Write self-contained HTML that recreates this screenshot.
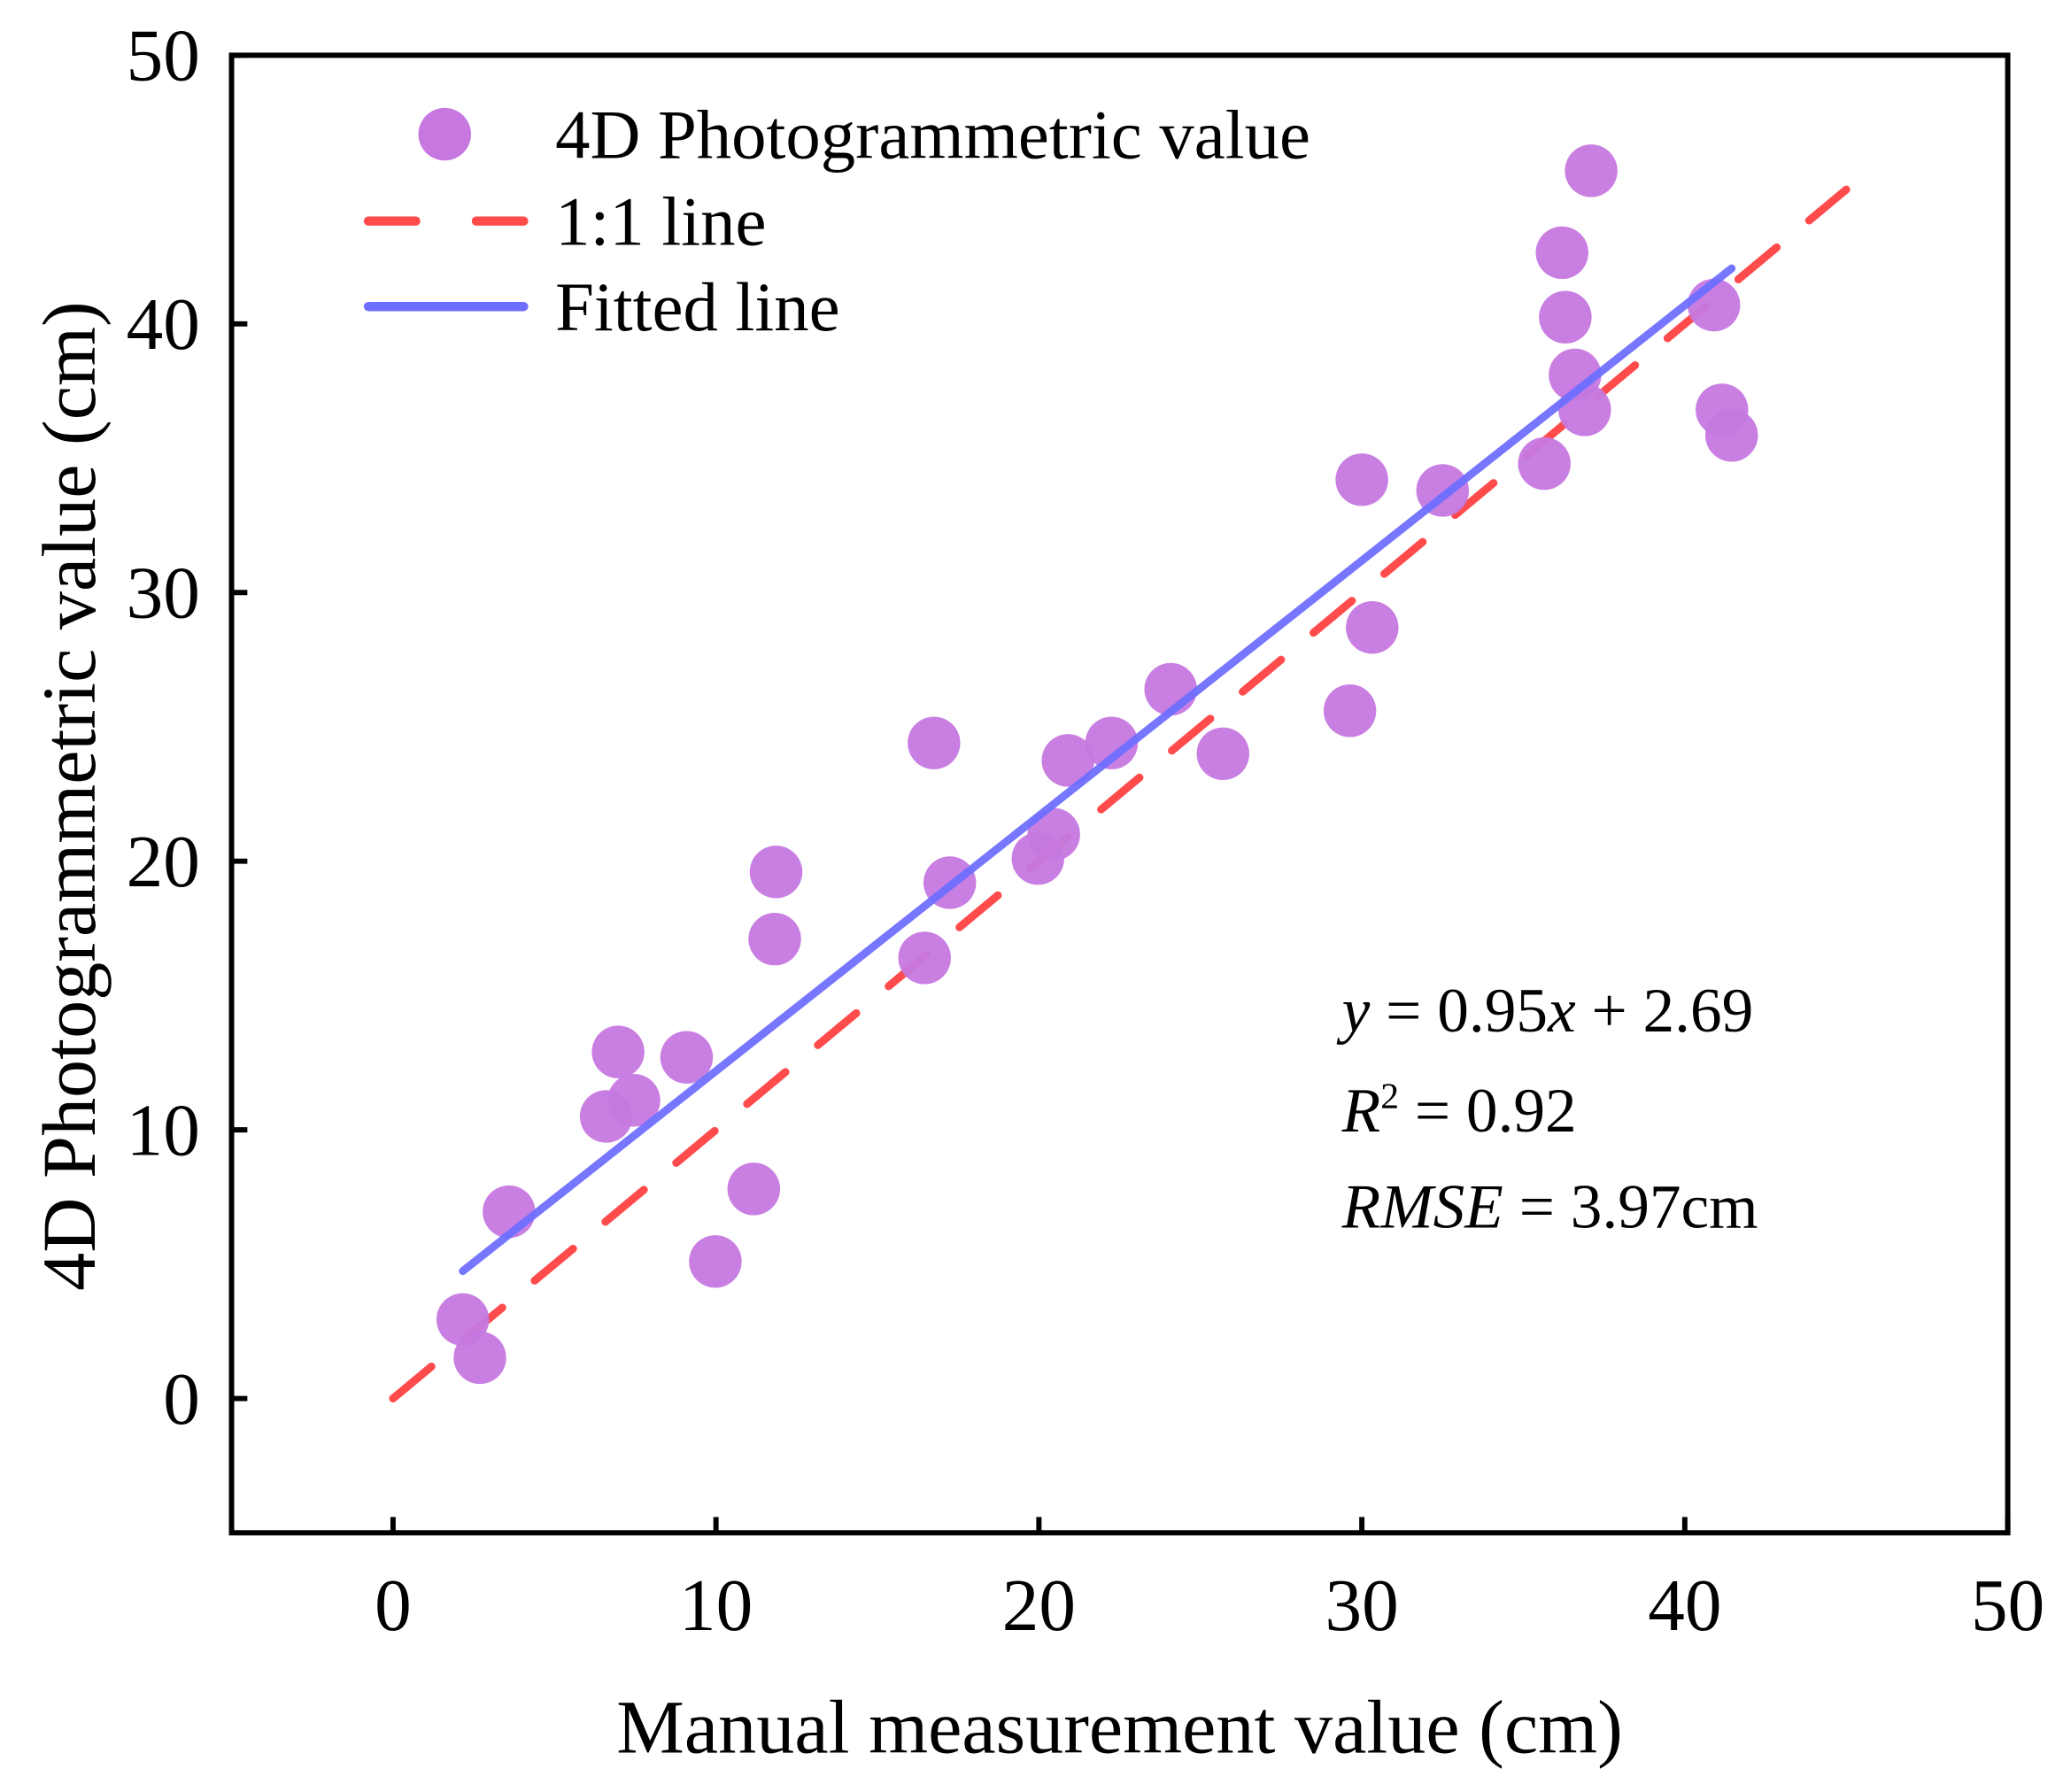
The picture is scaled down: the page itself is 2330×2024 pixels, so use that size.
<!DOCTYPE html>
<html><head><meta charset="utf-8">
<style>
html,body{margin:0;padding:0;background:#fff;}
svg{display:block;}
text{font-family:"Liberation Serif",serif;fill:#000;}
</style></head>
<body>
<svg id="chart" width="2330" height="2024" viewBox="0 0 1568 1362" preserveAspectRatio="none" xmlns="http://www.w3.org/2000/svg">
<g id="plot"></g>
</svg>
<script>
const xVals=[2.16,2.69,3.59,6.6,7.46,6.97,9.09,9.98,11.17,11.86,11.82,16.46,16.75,17.24,19.97,20.46,20.9,22.25,24.08,25.7,29.63,30.32,30.0,32.5,35.65,36.2,36.3,36.6,36.9,37.1,40.9,41.15,41.45];
const yVals=[2.94,1.52,6.95,10.5,11.1,12.9,12.7,5.1,7.8,19.6,17.1,16.4,24.4,19.2,20.1,21.0,23.75,24.4,26.4,24.0,25.6,28.7,34.2,33.8,34.8,42.65,40.25,38.1,36.8,45.7,40.7,36.8,35.85];
const xTicks=[0,10,20,30,40,50];
const yTicks=[0,10,20,30,40,50];
const fitSlope=0.95, fitIntercept=2.69;

const NS="http://www.w3.org/2000/svg";
const L=176,R=1526,T=42,B=1165;
const xMin=-5,xMax=50,yMin=-5,yMax=50;
function sx(v){return L+(v-xMin)/(xMax-xMin)*(R-L);}
function sy(v){return B-(v-yMin)/(yMax-yMin)*(B-T);}
const g=document.getElementById('plot');
function el(tag,attrs,parent){const e=document.createElementNS(NS,tag);for(const k in attrs)e.setAttribute(k,attrs[k]);(parent||g).appendChild(e);return e;}

const l11=el('line',{x1:sx(0),y1:sy(0),x2:sx(45),y2:sy(45),stroke:'#ff4b4b','stroke-width':6,'stroke-dasharray':'38 32','stroke-linecap':'round'});



xVals.forEach((xv,i)=>{
 const c=el('circle',{cx:sx(xv),cy:sy(yVals[i]),r:20,fill:'#c678e0','fill-opacity':0.95});
 
 
});

const x0=Math.min(...xVals),x1=Math.max(...xVals);
const fl=el('line',{x1:sx(x0),y1:sy(fitSlope*x0+fitIntercept),x2:sx(x1),y2:sy(fitSlope*x1+fitIntercept),stroke:'#6f6fff','stroke-width':6,'stroke-linecap':'round','stroke-opacity':0.95});



const fr=el('rect',{x:L,y:T,width:R-L,height:B-T,fill:'none',stroke:'#000','stroke-width':4});



xTicks.forEach(t=>{
 const tk=el('line',{x1:sx(t),y1:B,x2:sx(t),y2:B-12,stroke:'#000','stroke-width':4});
 
 
 const tx=el('text',{x:sx(t),y:1239,'font-size':56,'text-anchor':'middle'});
 tx.textContent=t;
 
 
});
yTicks.forEach(t=>{
 const tk=el('line',{x1:L,y1:sy(t),x2:L+12,y2:sy(t),stroke:'#000','stroke-width':4});
 
 
 const tx=el('text',{x:152,y:sy(t)+19,'font-size':56,'text-anchor':'end'});
 tx.textContent=t;
 
 
});
</script>
<svg style="position:absolute;left:0;top:0" width="2330" height="2024" viewBox="0 0 1568 1362" preserveAspectRatio="none" xmlns="http://www.w3.org/2000/svg">
<text x="851" y="1332" font-size="58" text-anchor="middle">Manual measurement value (cm)</text>
<text transform="translate(72,605) rotate(-90)" font-size="58" text-anchor="middle">4D Photogrammetric value (cm)</text>
<g>
<circle cx="338" cy="102" r="20" fill="#c678e0"/>
<text x="422" y="120" font-size="53">4D Photogrammetric value</text>
<line x1="280" y1="168" x2="398" y2="168" stroke="#ff4b4b" stroke-width="7" stroke-dasharray="36 46" stroke-linecap="round"/>
<text x="422" y="186" font-size="53">1:1 line</text>
<line x1="280" y1="233" x2="398" y2="233" stroke="#6f6fff" stroke-width="7" stroke-linecap="round"/>
<text x="422" y="251" font-size="53">Fitted line</text>
</g>
<g>
<text x="1020" y="784" font-size="48"><tspan font-style="italic">y</tspan> = 0.95<tspan font-style="italic">x</tspan> + 2.69</text>
<text x="1020" y="860" font-size="48"><tspan font-style="italic">R</tspan><tspan font-size="28" dy="-18">2</tspan><tspan dy="18"> = 0.92</tspan></text>
<text x="1020" y="933" font-size="48"><tspan font-style="italic">RMSE</tspan> = 3.97cm</text>
</g>
</svg>
</body></html>
